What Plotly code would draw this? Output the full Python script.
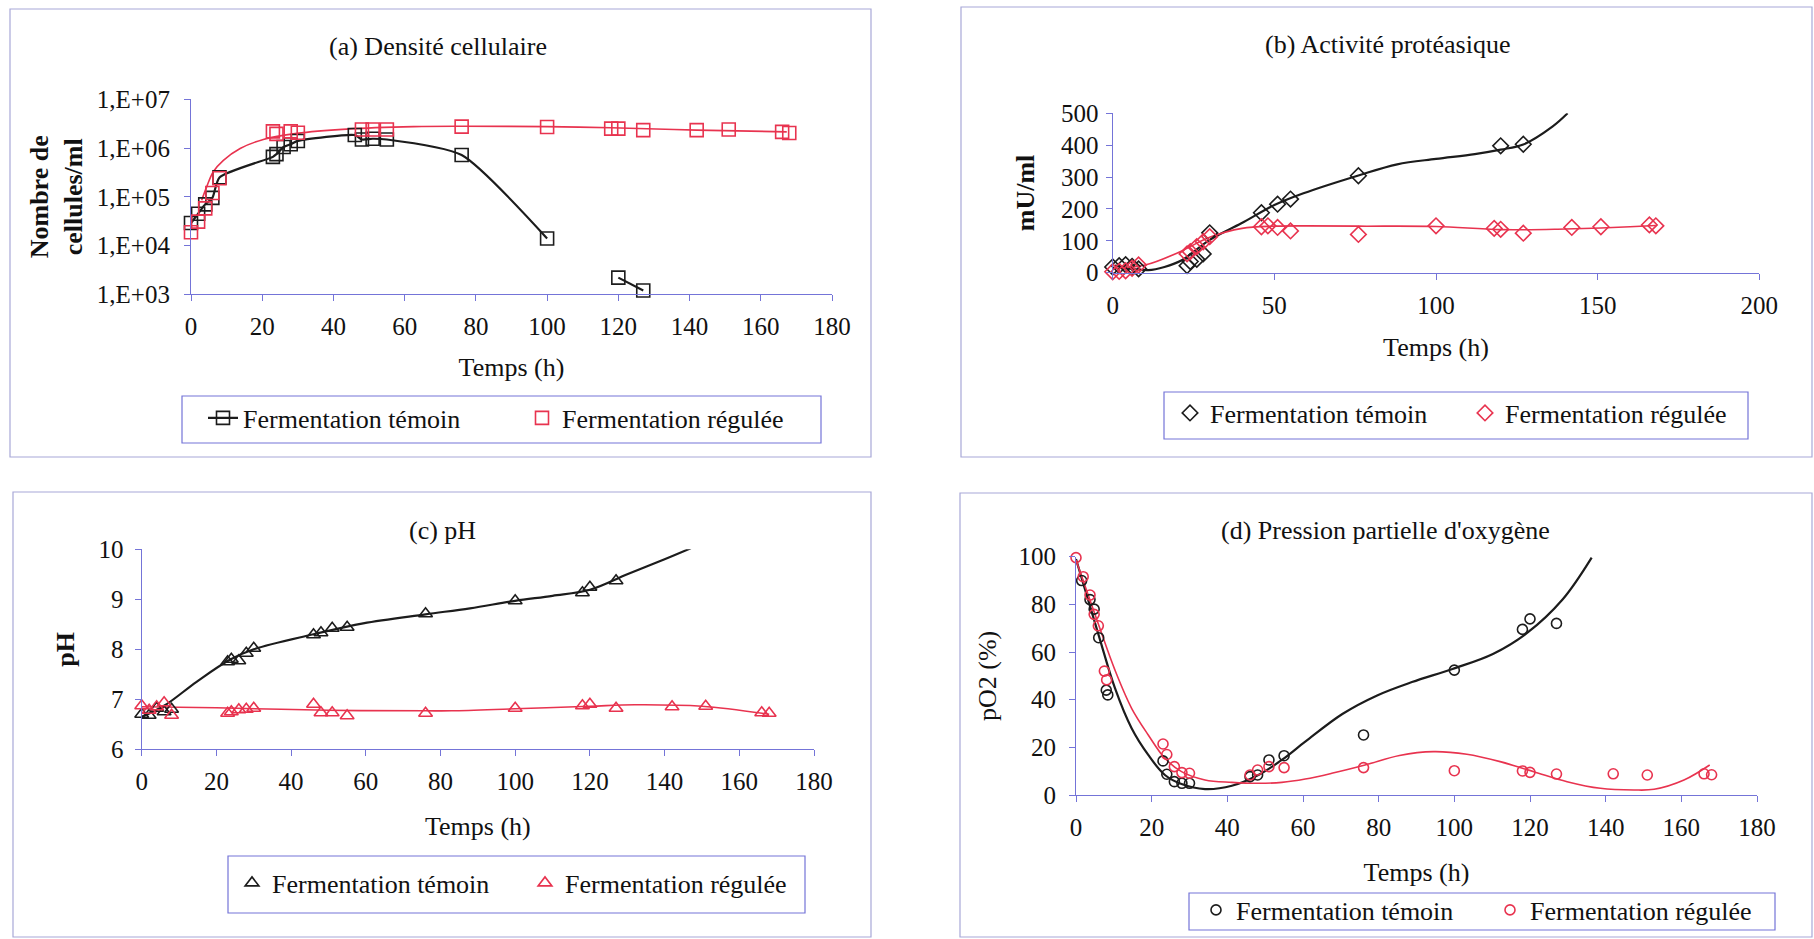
import plotly.graph_objects as go

W, H = 1814, 939
FONT = "Liberation Serif"
BLACK = "#1c1c1c"
RED = "#e8334f"
AXIS = "#7474d8"
BORDER = "#a8a8d8"

# ---------------- (a) Densité cellulaire ----------------
a_t_temoin = [0, 2, 4, 6, 8, 23, 24, 26, 28, 30, 46, 48, 51, 55, 76, 100, 118, 120, 127]
a_v_temoin = [2.9e4, 4.5e4, 7.0e4, 9.5e4, 2.5e5, 6.6e5, 7.5e5, 1.05e6, 1.2e6, 1.4e6,
              1.85e6, 1.5e6, 1.55e6, 1.5e6, 7.2e5, 1.4e4, None, 2.2e3, 1.2e3]
a_t_regulee = [0, 2, 4, 6, 8, 23, 24, 28, 30, 48, 51, 55, 76, 100, 118, 120, 127, 142, 151, 166, 168]
a_v_regulee = [1.87e4, 3.1e4, 5.8e4, 1.2e5, 2.4e5, 2.2e6, 1.95e6, 2.2e6, 2.06e6, 2.4e6, 2.4e6,
               2.4e6, 2.75e6, 2.7e6, 2.5e6, 2.5e6, 2.33e6, 2.33e6, 2.4e6, 2.15e6, 2.03e6]
a_fit_t_regulee = [3, 4.4, 6.3, 9.1, 13.8, 20.3, 29.7, 43.7, 62.5, 76, 100, 118, 142, 167.3]
a_fit_v_regulee = [8.5e4, 1.6e5, 3.3e5, 5.6e5, 9.8e5, 1.5e6, 2.0e6, 2.45e6, 2.75e6, 2.8e6,
                   2.75e6, 2.6e6, 2.33e6, 2.15e6]
a_tickvals = [1e3, 1e4, 1e5, 1e6, 1e7]
a_ticktext = ["1,E+03", "1,E+04", "1,E+05", "1,E+06", "1,E+07"]

# ---------------- (b) Activité protéasique ----------------
b_t_temoin = [0, 2, 4, 6, 8, 23, 24, 26, 28, 30, 46, 51, 55, 76, 120, 127]
b_v_temoin = [18, 22, 25, 20, 12, 22, 35, 42, 59, 125, 188, 215, 231, 304, 398, 403]
b_t_regulee = [0, 2, 4, 6, 8, 23, 24, 26, 28, 30, 46, 48, 51, 55, 76, 100, 118, 120, 127, 142, 151, 166, 168]
b_v_regulee = [3, 4, 6, 14, 24, 59, 66, 82, 97, 113, 144, 147, 142, 131, 120, 147, 139, 136,
               124, 142, 144, 150, 147]
b_fit_t_temoin = [0.7, 5, 11, 16, 21.5, 30, 39.8, 50, 59, 76, 88, 100, 112, 120, 127, 136, 140.7]
b_fit_v_temoin = [22, 14, 8, 18, 40, 103, 155, 212, 249, 305, 340, 357, 372, 386, 402, 458, 500]
b_fit_t_regulee = [0, 10, 20, 30, 40, 50, 60, 76, 100, 120, 140, 151, 160, 168]
b_fit_v_regulee = [13, 24, 62, 111, 139, 146, 147, 146, 145, 135, 137, 140, 144, 148]

# ---------------- (c) pH ----------------
c_t_temoin = [0, 2, 4, 6, 8, 23, 24, 26, 28, 30, 46, 48, 51, 55, 76, 100, 118, 120, 127]
c_v_temoin = [6.7, 6.68, 6.82, 6.75, 6.8, 7.75, 7.8, 7.77, 7.92, 8.02, 8.29, 8.33, 8.42, 8.44,
              8.71, 8.97, 9.13, 9.24, 9.37]
c_t_regulee = [0, 2, 4, 6, 8, 23, 24, 26, 28, 30, 46, 48, 51, 55, 76, 100, 118, 120, 127, 142, 151, 166, 168]
c_v_regulee = [6.87, 6.78, 6.85, 6.93, 6.68, 6.72, 6.75, 6.79, 6.8, 6.82, 6.9, 6.73, 6.73, 6.67,
               6.72, 6.82, 6.87, 6.9, 6.82, 6.85, 6.86, 6.73, 6.72]
c_fit_t_temoin = [0, 6, 14.7, 23.6, 30, 46, 59.3, 76, 87.9, 100, 110, 120, 130, 140, 147]
c_fit_v_temoin = [6.65, 6.87, 7.35, 7.79, 8.0, 8.3, 8.52, 8.7, 8.82, 8.97, 9.07, 9.19, 9.5, 9.8, 10.02]
c_fit_t_regulee = [0, 20, 50, 76, 83, 100, 120, 132, 150, 168]
c_fit_v_regulee = [6.85, 6.83, 6.78, 6.77, 6.77, 6.81, 6.86, 6.89, 6.86, 6.7]

# ---------------- (d) Pression partielle d'oxygène ----------------
d_t_temoin = [1.5, 3.7, 4.8, 6, 8, 8.4, 23, 24, 26, 28, 30, 46, 48, 51, 55, 76, 100, 118, 120, 127]
d_v_temoin = [90, 82, 78, 66, 44, 42, 14.3, 8.7, 5.6, 4.9, 4.9, 7.7, 8.4, 14.7, 16.5, 25.2,
              52.4, 69.5, 73.9, 72.0]
d_t_regulee = [0, 1.9, 3.7, 4.8, 5.9, 7.5, 8.1, 23, 24, 26, 28, 30, 46, 48, 51, 55, 76, 100,
               118, 120, 127, 142, 151, 166, 168]
d_v_regulee = [99.6, 91.6, 83.9, 75.8, 71, 52, 48.3, 21.4, 17, 11.9, 9.4, 9.1, 8.4, 10.5, 11.9,
               11.5, 11.5, 10.2, 10.1, 9.5, 8.8, 8.9, 8.4, 8.9, 8.5]
d_fit_t_temoin = [0, 6, 10.3, 14.7, 19.1, 23.5, 27.9, 34.1, 41.2, 48.2, 54.4, 60.6, 70.4, 79.6,
                  88.8, 99.5, 110.2, 119.4, 128.6, 136.3]
d_fit_v_temoin = [99, 67, 44.8, 28, 16.8, 8.4, 4.6, 2.5, 3.9, 8.4, 14.7, 22.4, 34, 41.8,
                  47.4, 52.9, 59.2, 68.2, 82, 99.6]
d_fit_t_regulee = [0, 6, 10.3, 14.7, 19.1, 23.5, 27.9, 34.1, 41.2, 48.2, 54.4, 60.6, 67.6, 76.4,
                   85.5, 94.5, 103.3, 112.1, 121, 129.8, 138.6, 147.5, 152.8, 160.7, 167.5]
d_fit_v_regulee = [98.6, 71.3, 52.4, 36.4, 25.2, 15.4, 9.8, 6.3, 5.3, 4.9, 5.3, 6.7, 9.1, 12.6,
                   16.6, 18.2, 17.1, 14, 9.8, 5.6, 2.8, 2.1, 2.4, 6.3, 12.6]

LEG_T = "Fermentation témoin"
LEG_R = "Fermentation régulée"

fig = go.Figure()


def px_x(p):
    return p / W


def px_y(p):
    return 1 - p / H


# plot areas in pixels: (x0, x1, ytop, ybottom)
areas = {
    "a": (191, 832, 99.3, 294.3),
    "b": (1112.7, 1759.3, 113.3, 272.7),
    "c": (141.7, 814, 549.3, 749.3),
    "d": (1076, 1757, 556.7, 795),
}
ax_ids = {"a": "", "b": "2", "c": "3", "d": "4"}


def add_markers(p, t, v, color, symbol, size, name, leg, mode="markers"):
    k = ax_ids[p]
    fig.add_trace(go.Scatter(
        x=t, y=v, mode=mode, name=name, legend=leg,
        xaxis="x" + k, yaxis="y" + k, cliponaxis=False,
        connectgaps=False,
        line=dict(color=color, width=2.2, shape="spline", smoothing=0.6),
        marker=dict(symbol=symbol, size=size, color=color, line=dict(color=color, width=1.6)),
    ))


def add_fit(p, t, v, color, width):
    k = ax_ids[p]
    fig.add_trace(go.Scatter(
        x=t, y=v, mode="lines", showlegend=False, hoverinfo="skip",
        xaxis="x" + k, yaxis="y" + k,
        line=dict(color=color, width=width, shape="spline", smoothing=1.0),
    ))


# (a)
add_fit("a", a_fit_t_regulee, a_fit_v_regulee, RED, 1.6)
add_markers("a", a_t_temoin, a_v_temoin, BLACK, "square-open", 13, LEG_T, "legend", mode="lines+markers")
add_markers("a", a_t_regulee, a_v_regulee, RED, "square-open", 13, LEG_R, "legend")
# (b)
add_fit("b", b_fit_t_temoin, b_fit_v_temoin, BLACK, 2.2)
add_fit("b", b_fit_t_regulee, b_fit_v_regulee, RED, 1.6)
add_markers("b", b_t_temoin, b_v_temoin, BLACK, "diamond-open", 12, LEG_T, "legend2")
add_markers("b", b_t_regulee, b_v_regulee, RED, "diamond-open", 12, LEG_R, "legend2")
# (c)
add_fit("c", c_fit_t_temoin, c_fit_v_temoin, BLACK, 2.2)
add_fit("c", c_fit_t_regulee, c_fit_v_regulee, RED, 1.6)
add_markers("c", c_t_temoin, c_v_temoin, BLACK, "triangle-up-open", 12, LEG_T, "legend3")
add_markers("c", c_t_regulee, c_v_regulee, RED, "triangle-up-open", 12, LEG_R, "legend3")
# (d)
add_fit("d", d_fit_t_temoin, d_fit_v_temoin, BLACK, 2.2)
add_fit("d", d_fit_t_regulee, d_fit_v_regulee, RED, 1.6)
add_markers("d", d_t_temoin, d_v_temoin, BLACK, "circle-open", 10, LEG_T, "legend4")
add_markers("d", d_t_regulee, d_v_regulee, RED, "circle-open", 10, LEG_R, "legend4")

tickfont = dict(family=FONT, size=25, color="#111111")
titlefont = dict(family=FONT, size=26, color="#111111")


def xaxis(p, rng, dtick, k, standoff):
    x0, x1, yt, yb = areas[p]
    return dict(
        domain=[px_x(x0), px_x(x1)], anchor="y" + k, range=rng, tick0=0, dtick=dtick,
        showline=True, linecolor=AXIS, linewidth=1.2, ticks="outside", ticklen=6,
        tickcolor=AXIS, tickwidth=1.2, showgrid=False, zeroline=False,
        tickfont=tickfont, ticklabelstandoff=4,
        title=dict(text="Temps (h)", font=titlefont, standoff=standoff),
        automargin=False,
    )


def yaxis(p, rng, k, title, standoff, lab_standoff, bold=True, **kw):
    x0, x1, yt, yb = areas[p]
    tf = dict(titlefont)
    if bold:
        tf["weight"] = "bold"
    d = dict(
        domain=[px_y(yb), px_y(yt)], anchor="x" + k, range=rng,
        showline=True, linecolor=AXIS, linewidth=1.2, ticks="outside", ticklen=6,
        tickcolor=AXIS, tickwidth=1.2, showgrid=False, zeroline=False,
        tickfont=tickfont, ticklabelstandoff=lab_standoff,
        title=dict(text=title, font=tf, standoff=standoff),
        automargin=False,
    )
    d.update(kw)
    return d


layout = dict(
    width=W, height=H, margin=dict(l=0, r=0, t=0, b=0, autoexpand=False),
    paper_bgcolor="white", plot_bgcolor="white",
    font=dict(family=FONT, color="#111111"),
    xaxis=xaxis("a", [0, 180], 20, "", 18),
    yaxis=yaxis("a", [3, 7], "", "Nombre de<br>cellules/ml", 6, 9, type="log",
                tickvals=a_tickvals, ticktext=a_ticktext),
    xaxis2=xaxis("b", [0, 200], 50, "2", 20),
    yaxis2=yaxis("b", [0, 500], "2", "mU/ml", 18, 2, tick0=0, dtick=100),
    xaxis3=xaxis("c", [0, 180], 20, "3", 22),
    yaxis3=yaxis("c", [6, 10], "3", "pH", 16, 6, tick0=6, dtick=1),
    xaxis4=xaxis("d", [0, 180], 20, "4", 22),
    yaxis4=yaxis("d", [0, 100], "4", "pO2 (%)", 14, 8, bold=False, tick0=0, dtick=20),
    showlegend=True,
)

leg_common = dict(orientation="h", bgcolor="rgba(0,0,0,0)", borderwidth=0,
                  font=dict(family=FONT, size=26, color="#111111"),
                  xanchor="left", yanchor="middle", entrywidthmode="pixels",
                  itemclick=False, itemdoubleclick=False)
legend_pos = {  # (start px, center y px, entry width)
    "legend": (203, 418, 274),
    "legend2": (1170, 413, 250),
    "legend3": (232, 883, 248),
    "legend4": (1196, 910, 249),
}
for key, (lx, ly, ew) in legend_pos.items():
    layout[key] = dict(leg_common, x=px_x(lx), y=px_y(ly), entrywidth=ew)

fig.update_layout(**layout)

shapes = []
# panel borders
for (x0, y0, x1, y1) in [(10, 9, 871, 457), (961, 7, 1812, 457), (13, 492, 871, 937), (960, 493, 1812, 937)]:
    shapes.append(dict(type="rect", xref="paper", yref="paper", x0=px_x(x0), x1=px_x(x1),
                       y0=px_y(y1), y1=px_y(y0), line=dict(color=BORDER, width=1.2)))
# legend boxes
for (x0, y0, x1, y1) in [(182, 396, 821, 443), (1164, 392, 1748, 439), (228, 856, 805, 913), (1189, 893, 1775, 930)]:
    shapes.append(dict(type="rect", xref="paper", yref="paper", x0=px_x(x0), x1=px_x(x1),
                       y0=px_y(y1), y1=px_y(y0), line=dict(color=AXIS, width=1.2)))
fig.update_layout(shapes=shapes)

titles = [("(a) Densité cellulaire", 438, 47), ("(b) Activité protéasique", 1387, 45),
          ("(c) pH", 442, 530), ("(d) Pression partielle d'oxygène", 1385, 530)]
for txt, cx, cy in titles:
    fig.add_annotation(text=txt, x=px_x(cx), y=px_y(cy), xref="paper", yref="paper",
                       showarrow=False, xanchor="center", yanchor="middle",
                       font=dict(family=FONT, size=26, color="#111111"))

fig.write_html("out.html")
